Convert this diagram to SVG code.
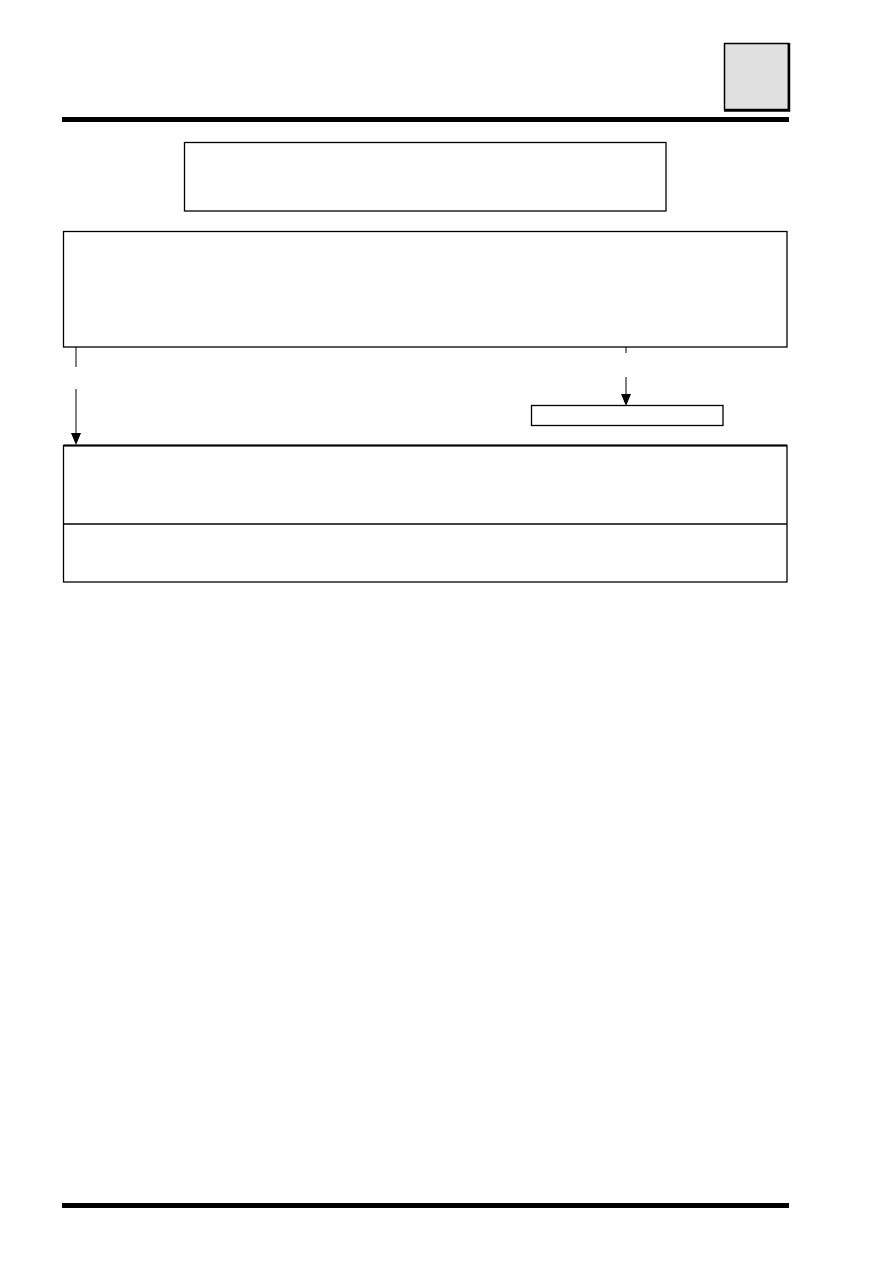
<svg xmlns="http://www.w3.org/2000/svg" width="893" height="1263" viewBox="0 0 893 1263">
<style>
.box{fill:#fff;stroke:#000;stroke-width:1.3}
.conn{stroke:#000;stroke-width:1;fill:none}
.bar{fill:#000}
</style>
<defs>
<marker id="arr" markerWidth="12" markerHeight="12" refX="6" refY="11" orient="auto" markerUnits="userSpaceOnUse" viewBox="0 0 12 12">
<path d="M1,0 L11,0 L6,11 Z" transform="rotate(-90 6 6)" fill="#000"/>
</marker>
</defs>
<rect width="893" height="1263" fill="#fff"/>
<g id="tab"><rect x="724.5" y="43.5" width="64" height="66" fill="#e0e0e0" stroke="#000" stroke-width="1.5"/><path d="M789 43 V110.5 H724" fill="none" stroke="#000" stroke-width="2.5"/></g>
<rect id="topbar" class="bar" x="62" y="117" width="727" height="5"/>
<rect id="bottombar" class="bar" x="62" y="1203" width="727" height="5"/>
<g id="box1"><rect class="box" x="184.5" y="142.5" width="481.5" height="68.5"/></g>
<g id="box2"><rect class="box" x="63.5" y="231.5" width="723.5" height="115.5"/></g>
<g id="box3"><rect class="box" x="531.5" y="405.5" width="191.5" height="20"/></g>
<g id="box4"><rect class="box" x="63.5" y="445.5" width="723.5" height="136.5"/><line x1="63.5" y1="445.5" x2="787" y2="445.5" stroke="#000" stroke-width="2"/><line x1="63.5" y1="524" x2="787" y2="524" stroke="#000" stroke-width="1.3"/></g>
<g id="connectors">
<line class="conn" x1="76" y1="347" x2="76" y2="367"/>
<line class="conn" x1="76" y1="389" x2="76" y2="433"/>
<path d="M71 433 L81 433 L76 445 Z" fill="#000"/>
<line class="conn" x1="626" y1="347" x2="626" y2="353"/>
<line class="conn" x1="626" y1="377" x2="626" y2="395"/>
<path d="M621 394 L631 394 L626 406 Z" fill="#000"/>
</g>
</svg>
